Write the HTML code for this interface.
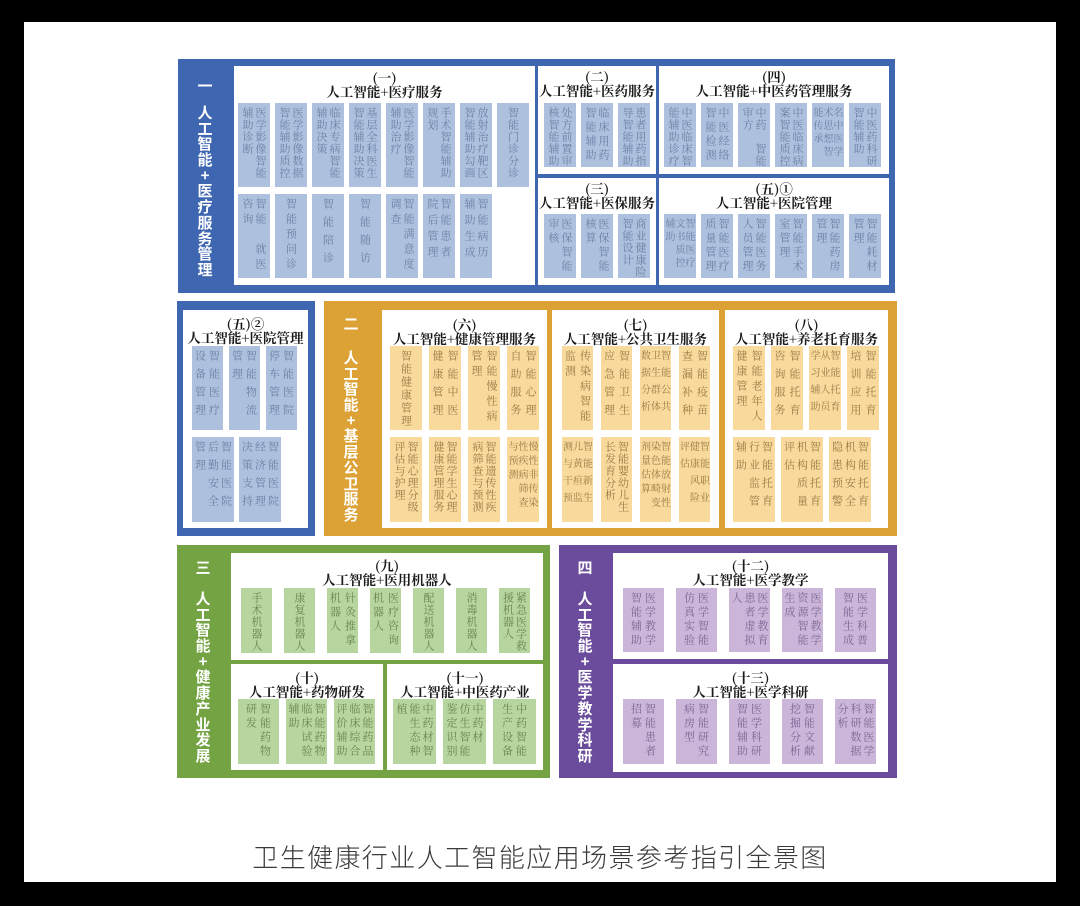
<!DOCTYPE html>
<html><head><meta charset="utf-8">
<style>
body{margin:0;width:1080px;height:906px;background:#000;position:relative;overflow:hidden;font-family:"Liberation Sans","Noto Sans CJK SC",sans-serif}
.pg{position:absolute;left:24px;top:22px;width:1032px;height:860px;background:#fff}
.b{position:absolute}
.w{position:absolute;background:#fff}
.t{position:absolute;display:flex;justify-content:center;padding-top:4px;box-sizing:border-box;overflow:hidden}
.t>div{writing-mode:vertical-rl;white-space:nowrap;font-family:"Noto Serif CJK SC",serif;font-size:11px;line-height:13px;letter-spacing:1px}
.bl{background:#adc1df;color:#6b7fa3}
.or{background:#f9d99c;color:#9a7a44}
.gr{background:#b7d59e;color:#66844f}
.pu{background:#cbb6da;color:#7a6690}
.n3>div{line-height:10px;font-size:10px}
.h{position:absolute;text-align:center;font-family:"Noto Serif CJK SC",serif;font-weight:bold;font-size:13.5px;line-height:14px;color:#1a1a1a;white-space:nowrap}
.lab{position:absolute;display:flex;flex-direction:column;justify-content:space-between;align-items:center;color:#fff;font-weight:bold;font-size:15px;line-height:15px;font-family:"Noto Sans CJK SC",sans-serif}
.ttl{position:absolute;left:0;width:1080px;top:838px;text-align:center;font-family:"Noto Sans CJK SC",sans-serif;font-weight:300;font-size:26px;color:#3a3a3a;letter-spacing:1.4px}
</style></head><body>
<div class="pg"></div>

<!-- Section 一 -->
<div class="b" style="left:178px;top:59px;width:717px;height:234px;background:#3f67b1"></div>
<div class="lab" style="left:190px;top:78px;width:30px;height:12px"><span>一</span></div>
<div class="lab" style="left:190px;top:105px;width:30px;height:172px"><span>人</span><span>工</span><span>智</span><span>能</span><span>+</span><span>医</span><span>疗</span><span>服</span><span>务</span><span>管</span><span>理</span></div>
<div class="w" style="left:234px;top:66px;width:301px;height:219px"></div>
<div class="w" style="left:538px;top:66px;width:118px;height:108px"></div>
<div class="w" style="left:659px;top:66px;width:230px;height:108px"></div>
<div class="w" style="left:538px;top:178px;width:118px;height:107px"></div>
<div class="w" style="left:659px;top:178px;width:230px;height:107px"></div>

<div class="h" style="left:234px;width:301px;top:70px">(一)<br>人工智能+医疗服务</div>
<div class="h" style="left:538px;width:118px;top:69px">(二)<br>人工智能+医药服务</div>
<div class="h" style="left:659px;width:230px;top:69px">(四)<br>人工智能+中医药管理服务</div>
<div class="h" style="left:538px;width:118px;top:181px">(三)<br>人工智能+医保服务</div>
<div class="h" style="left:659px;width:230px;top:181px">(五)①<br>人工智能+医院管理</div>

<!-- (一) row1 -->
<div class="t bl" style="left:238px;top:103px;width:32px;height:84px"><div>医学影像智能<br>辅助诊断</div></div>
<div class="t bl" style="left:275px;top:103px;width:32px;height:84px"><div>医学影像数据<br>智能辅助质控</div></div>
<div class="t bl" style="left:312px;top:103px;width:32px;height:84px"><div>临床专病智能<br>辅助决策</div></div>
<div class="t bl" style="left:349px;top:103px;width:32px;height:84px"><div>基层全科医生<br>智能辅助决策</div></div>
<div class="t bl" style="left:386px;top:103px;width:32px;height:84px"><div>医学影像智能<br>辅助治疗</div></div>
<div class="t bl" style="left:423px;top:103px;width:32px;height:84px"><div>手术智能辅助<br>规划</div></div>
<div class="t bl" style="left:460px;top:103px;width:32px;height:84px"><div>放射治疗靶区<br>智能辅助勾画</div></div>
<div class="t bl" style="left:497px;top:103px;width:32px;height:84px"><div>智能门诊分诊</div></div>
<!-- (一) row2 -->
<div class="t bl" style="left:238px;top:194px;width:32px;height:84px"><div style="letter-spacing:4px">智能　就医<br>咨询</div></div>
<div class="t bl" style="left:275px;top:194px;width:32px;height:84px"><div style="letter-spacing:4px">智能预问诊</div></div>
<div class="t bl" style="left:312px;top:194px;width:32px;height:84px"><div style="letter-spacing:7px">智能陪诊</div></div>
<div class="t bl" style="left:349px;top:194px;width:32px;height:84px"><div style="letter-spacing:7px">智能随访</div></div>
<div class="t bl" style="left:386px;top:194px;width:32px;height:84px"><div style="letter-spacing:4px">智能满意度<br>调查</div></div>
<div class="t bl" style="left:423px;top:194px;width:32px;height:84px"><div style="letter-spacing:5px">智能患者<br>院后管理</div></div>
<div class="t bl" style="left:460px;top:194px;width:32px;height:84px"><div style="letter-spacing:5px">智能病历<br>辅助生成</div></div>

<!-- (二) -->
<div class="t bl" style="left:544px;top:103px;width:32px;height:64px"><div>处方前置审<br>核智能辅助</div></div>
<div class="t bl" style="left:581px;top:103px;width:32px;height:64px"><div style="letter-spacing:3px">临床用药<br>智能辅助</div></div>
<div class="t bl" style="left:618px;top:103px;width:32px;height:64px"><div>患者用药指<br>导智能辅助</div></div>
<!-- (四) -->
<div class="t bl" style="left:664px;top:103px;width:32px;height:64px"><div>中医临床智<br>能辅助诊疗</div></div>
<div class="t bl" style="left:701px;top:103px;width:32px;height:64px"><div style="letter-spacing:3px">中医经络<br>智能检测</div></div>
<div class="t bl" style="left:738px;top:103px;width:32px;height:64px"><div>中药　智能<br>审方</div></div>
<div class="t bl" style="left:775px;top:103px;width:32px;height:64px"><div>中医临床病<br>案智能质控</div></div>
<div class="t bl n3" style="left:812px;top:103px;width:32px;height:64px"><div style="letter-spacing:3px">名中医学<br>术思想智<br>能传承</div></div>
<div class="t bl" style="left:849px;top:103px;width:32px;height:64px"><div>中医药科研<br>智能辅助</div></div>
<!-- (三) -->
<div class="t bl" style="left:544px;top:214px;width:32px;height:64px"><div style="letter-spacing:3px">医保智能<br>审核</div></div>
<div class="t bl" style="left:581px;top:214px;width:32px;height:64px"><div style="letter-spacing:3px">医保智能<br>核算</div></div>
<div class="t bl" style="left:618px;top:214px;width:32px;height:64px"><div>商业健康险<br>智能设计</div></div>
<!-- (五)① -->
<div class="t bl n3" style="left:664px;top:214px;width:32px;height:64px"><div style="letter-spacing:3px">智能医疗<br>文书质控<br>辅助</div></div>
<div class="t bl" style="left:701px;top:214px;width:32px;height:64px"><div style="letter-spacing:3px">智能医疗<br>质量管理</div></div>
<div class="t bl" style="left:738px;top:214px;width:32px;height:64px"><div style="letter-spacing:3px">智能医务<br>人员管理</div></div>
<div class="t bl" style="left:775px;top:214px;width:32px;height:64px"><div style="letter-spacing:3px">智能手术<br>室管理</div></div>
<div class="t bl" style="left:812px;top:214px;width:32px;height:64px"><div style="letter-spacing:3px">智能药房<br>管理</div></div>
<div class="t bl" style="left:849px;top:214px;width:32px;height:64px"><div style="letter-spacing:3px">智能耗材<br>管理</div></div>

<!-- (五)② -->
<div class="b" style="left:177px;top:301px;width:138px;height:235px;background:#3f67b1"></div>
<div class="w" style="left:183px;top:310px;width:125px;height:218px"></div>
<div class="h" style="left:183px;width:125px;top:316px">(五)②<br>人工智能+医院管理</div>
<div class="t bl" style="left:192px;top:346px;width:31px;height:84px"><div style="line-height:14px;letter-spacing:7px">智能医疗<br>设备管理</div></div>
<div class="t bl" style="left:229px;top:346px;width:31px;height:84px"><div style="line-height:14px;letter-spacing:7px">智能物流<br>管理</div></div>
<div class="t bl" style="left:266px;top:346px;width:31px;height:84px"><div style="line-height:14px;letter-spacing:7px">智能医院<br>停车管理</div></div>
<div class="t bl" style="left:192px;top:437px;width:42px;height:85px"><div style="line-height:13px;letter-spacing:7px">智能医院<br>后勤安全<br>管理</div></div>
<div class="t bl" style="left:239px;top:437px;width:42px;height:85px"><div style="line-height:13px;letter-spacing:7px">智能医院<br>经济管理<br>决策支持</div></div>

<!-- Section 二 -->
<div class="b" style="left:324px;top:301px;width:573px;height:235px;background:#dca235"></div>
<div class="lab" style="left:336px;top:316px;width:30px;height:12px"><span>二</span></div>
<div class="lab" style="left:336px;top:350px;width:30px;height:172px"><span>人</span><span>工</span><span>智</span><span>能</span><span>+</span><span>基</span><span>层</span><span>公</span><span>卫</span><span>服</span><span>务</span></div>
<div class="w" style="left:382px;top:310px;width:165px;height:218px"></div>
<div class="w" style="left:552px;top:310px;width:167px;height:218px"></div>
<div class="w" style="left:725px;top:310px;width:163px;height:218px"></div>
<div class="h" style="left:382px;width:165px;top:317px">(六)<br>人工智能+健康管理服务</div>
<div class="h" style="left:552px;width:167px;top:317px">(七)<br>人工智能+公共卫生服务</div>
<div class="h" style="left:725px;width:163px;top:317px">(八)<br>人工智能+养老托育服务</div>

<div class="t or" style="left:390px;top:346px;width:32px;height:84px"><div style="letter-spacing:2px">智能健康管理</div></div>
<div class="t or" style="left:429px;top:346px;width:32px;height:84px"><div style="letter-spacing:7px;line-height:15px">智能中医<br>健康管理</div></div>
<div class="t or" style="left:468px;top:346px;width:32px;height:84px"><div style="letter-spacing:4px;line-height:15px">智能慢性病<br>管理</div></div>
<div class="t or" style="left:507px;top:346px;width:32px;height:84px"><div style="letter-spacing:7px;line-height:15px">智能心理<br>自助服务</div></div>
<div class="t or" style="left:390px;top:437px;width:32px;height:85px"><div>智能心理分级<br>评估与护理</div></div>
<div class="t or" style="left:429px;top:437px;width:32px;height:85px"><div>智能学生心理<br>健康管理服务</div></div>
<div class="t or" style="left:468px;top:437px;width:32px;height:85px"><div>智能遗传性疾<br>病筛查与预测</div></div>
<div class="t or n3" style="left:507px;top:437px;width:32px;height:85px"><div style="letter-spacing:4px">慢性非传染<br>性疾病筛查<br>与预测</div></div>

<div class="t or" style="left:562px;top:346px;width:31px;height:84px"><div style="letter-spacing:4px;line-height:15px">传染病智能<br>监测</div></div>
<div class="t or" style="left:601px;top:346px;width:31px;height:84px"><div style="letter-spacing:7px;line-height:15px">智能卫生<br>应急管理</div></div>
<div class="t or n3" style="left:640px;top:346px;width:31px;height:84px"><div style="letter-spacing:7px">智能公共<br>卫生群体<br>数据分析</div></div>
<div class="t or" style="left:679px;top:346px;width:31px;height:84px"><div style="letter-spacing:7px;line-height:15px">智能疫苗<br>查漏补种</div></div>
<div class="t or n3" style="left:562px;top:437px;width:31px;height:85px"><div style="letter-spacing:7px">智能新生<br>儿黄疸监<br>测与干预</div></div>
<div class="t or" style="left:601px;top:437px;width:31px;height:85px"><div>智能婴幼儿生<br>长发育分析</div></div>
<div class="t or n3" style="left:640px;top:437px;width:31px;height:85px"><div style="letter-spacing:4px">智能放射性<br>染色体畸变<br>剂量估算</div></div>
<div class="t or n3" style="left:679px;top:437px;width:31px;height:85px"><div style="letter-spacing:7px">智能职业<br>健康风险<br>评估</div></div>

<div class="t or" style="left:733px;top:346px;width:32px;height:84px"><div style="letter-spacing:4px;line-height:15px">智能老年人<br>健康管理</div></div>
<div class="t or" style="left:771px;top:346px;width:32px;height:84px"><div style="letter-spacing:7px;line-height:15px">智能托育<br>咨询服务</div></div>
<div class="t or n3" style="left:809px;top:346px;width:32px;height:84px"><div style="letter-spacing:7px">智能托育<br>从业人员<br>学习辅助</div></div>
<div class="t or" style="left:847px;top:346px;width:32px;height:84px"><div style="letter-spacing:7px;line-height:15px">智能托育<br>培训应用</div></div>
<div class="t or" style="left:733px;top:437px;width:42px;height:85px"><div style="letter-spacing:7px">智能托育<br>行业监管<br>辅助</div></div>
<div class="t or" style="left:781px;top:437px;width:42px;height:85px"><div style="letter-spacing:7px">智能托育<br>机构质量<br>评估</div></div>
<div class="t or" style="left:829px;top:437px;width:42px;height:85px"><div style="letter-spacing:7px">智能托育<br>机构安全<br>隐患预警</div></div>

<!-- Section 三 -->
<div class="b" style="left:177px;top:545px;width:373px;height:233px;background:#73a342"></div>
<div class="lab" style="left:188px;top:560px;width:30px;height:12px"><span>三</span></div>
<div class="lab" style="left:188px;top:591px;width:30px;height:172px"><span>人</span><span>工</span><span>智</span><span>能</span><span>+</span><span>健</span><span>康</span><span>产</span><span>业</span><span>发</span><span>展</span></div>
<div class="w" style="left:231px;top:553px;width:312px;height:107px"></div>
<div class="w" style="left:231px;top:664px;width:152px;height:106px"></div>
<div class="w" style="left:387px;top:664px;width:156px;height:106px"></div>
<div class="h" style="left:231px;width:312px;top:558px">(九)<br>人工智能+医用机器人</div>
<div class="h" style="left:231px;width:152px;top:670px">(十)<br>人工智能+药物研发</div>
<div class="h" style="left:387px;width:156px;top:670px">(十一)<br>人工智能+中医药产业</div>

<div class="t gr" style="left:241px;top:588px;width:31px;height:65px"><div>手术机器人</div></div>
<div class="t gr" style="left:284px;top:588px;width:31px;height:65px"><div>康复机器人</div></div>
<div class="t gr" style="left:327px;top:588px;width:31px;height:65px"><div style="line-height:15px;letter-spacing:3px">针灸推拿<br>机器人</div></div>
<div class="t gr" style="left:370px;top:588px;width:31px;height:65px"><div style="line-height:15px;letter-spacing:3px">医疗咨询<br>机器人</div></div>
<div class="t gr" style="left:413px;top:588px;width:31px;height:65px"><div>配送机器人</div></div>
<div class="t gr" style="left:456px;top:588px;width:31px;height:65px"><div>消毒机器人</div></div>
<div class="t gr" style="left:499px;top:588px;width:31px;height:65px"><div>紧急医学救<br>援机器人</div></div>

<div class="t gr" style="left:238px;top:699px;width:41px;height:65px"><div style="line-height:14px;letter-spacing:3px">智能药物<br>研发</div></div>
<div class="t gr" style="left:286px;top:699px;width:41px;height:65px"><div style="line-height:13px;letter-spacing:3px">智能药物<br>临床试验<br>辅助</div></div>
<div class="t gr" style="left:334px;top:699px;width:41px;height:65px"><div style="line-height:13px;letter-spacing:3px">智能药品<br>临床综合<br>评价辅助</div></div>
<div class="t gr" style="left:393px;top:699px;width:43px;height:65px"><div style="line-height:13px;letter-spacing:3px">中药材智<br>能生态种<br>植</div></div>
<div class="t gr" style="left:443px;top:699px;width:43px;height:65px"><div style="line-height:13px;letter-spacing:3px">中药材<br>仿生智能<br>鉴定识别</div></div>
<div class="t gr" style="left:493px;top:699px;width:43px;height:65px"><div style="line-height:14px;letter-spacing:3px">中药智能<br>生产设备</div></div>

<!-- Section 四 -->
<div class="b" style="left:559px;top:545px;width:338px;height:233px;background:#6b4c9c"></div>
<div class="lab" style="left:570px;top:560px;width:30px;height:12px"><span>四</span></div>
<div class="lab" style="left:570px;top:591px;width:30px;height:172px"><span>人</span><span>工</span><span>智</span><span>能</span><span>+</span><span>医</span><span>学</span><span>教</span><span>学</span><span>科</span><span>研</span></div>
<div class="w" style="left:613px;top:553px;width:275px;height:106px"></div>
<div class="w" style="left:613px;top:664px;width:275px;height:108px"></div>
<div class="h" style="left:613px;width:275px;top:558px">(十二)<br>人工智能+医学教学</div>
<div class="h" style="left:613px;width:275px;top:670px">(十三)<br>人工智能+医学科研</div>

<div class="t pu" style="left:623px;top:588px;width:41px;height:64px"><div style="line-height:14px;letter-spacing:3px">医学教学<br>智能辅助</div></div>
<div class="t pu" style="left:676px;top:588px;width:41px;height:64px"><div style="line-height:14px;letter-spacing:3px">医学智能<br>仿真实验</div></div>
<div class="t pu" style="left:729px;top:588px;width:41px;height:64px"><div style="line-height:13px;letter-spacing:3px">医学教育<br>患者虚拟<br>人</div></div>
<div class="t pu" style="left:782px;top:588px;width:41px;height:64px"><div style="line-height:13px;letter-spacing:3px">医学教学<br>资源智能<br>生成</div></div>
<div class="t pu" style="left:835px;top:588px;width:41px;height:64px"><div style="line-height:14px;letter-spacing:3px">医学科普<br>智能生成</div></div>

<div class="t pu" style="left:623px;top:699px;width:41px;height:65px"><div style="line-height:14px;letter-spacing:3px">智能患者<br>招募</div></div>
<div class="t pu" style="left:676px;top:699px;width:41px;height:65px"><div style="line-height:14px;letter-spacing:3px">智能研究<br>病房型</div></div>
<div class="t pu" style="left:729px;top:699px;width:41px;height:65px"><div style="line-height:14px;letter-spacing:3px">医学科研<br>智能辅助</div></div>
<div class="t pu" style="left:782px;top:699px;width:41px;height:65px"><div style="line-height:14px;letter-spacing:3px">智能文献<br>挖掘分析</div></div>
<div class="t pu" style="left:835px;top:699px;width:41px;height:65px"><div style="line-height:13px;letter-spacing:3px">智能医学<br>科研数据<br>分析</div></div>

<div class="ttl">卫生健康行业人工智能应用场景参考指引全景图</div>
</body></html>
